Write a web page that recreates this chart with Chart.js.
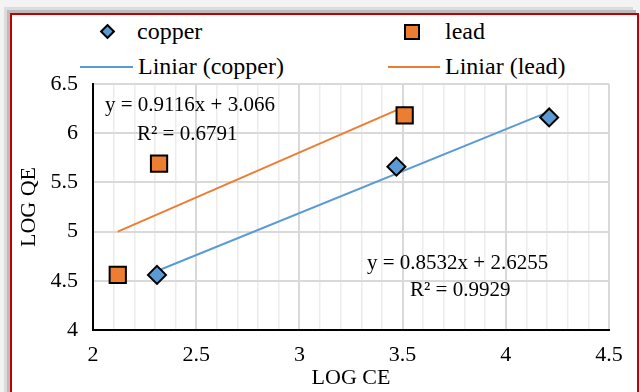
<!DOCTYPE html>
<html>
<head>
<meta charset="utf-8">
<script src="https://cdn.jsdelivr.net/npm/chart.js@4.4.0/dist/chart.umd.min.js"></script>
<style>
    html, body { margin: 0; padding: 0; width: 640px; height: 392px; overflow: hidden; background: #f3f3f3; }
    body { font-family: 'Liberation Serif', serif; color: #000; }
    #frame {
        position: absolute; left: 10px; top: 13px; width: 625px; height: 420px;
        border: 2px solid #c00000; background: #fff;
        box-shadow: -3px -3px 0 #bcbcbc, -6px -6px 0 #dcdcdc;
    }
    #wrap { position: absolute; left: 0; top: 0; width: 640px; height: 392px; }
    .txt { position: absolute; white-space: nowrap; line-height: 1; }
    .leg { font-size: 24px; }
    .eq { font-size: 21px; }
    .mk { position: absolute; box-sizing: border-box; border: 2px solid #000; }
    .ln { position: absolute; height: 2px; }
</style>
</head>
<body>
<div id="frame"></div>

<!-- legend -->
<div class="mk" style="left:102px;top:26px;width:11px;height:11px;background:#5b9bd5;transform:rotate(45deg);"></div>
<div class="txt leg" style="left:137px;top:19px;">copper</div>
<div class="mk" style="left:404px;top:24px;width:16px;height:16px;background:#ed7d31;"></div>
<div class="txt leg" style="left:445px;top:19px;">lead</div>
<div class="ln" style="left:80px;top:66px;width:53px;background:#5b9bd5;"></div>
<div class="txt leg" style="left:138px;top:54px;">Liniar (copper)</div>
<div class="ln" style="left:388px;top:66px;width:52px;background:#ed7d31;"></div>
<div class="txt leg" style="left:445px;top:54px;">Liniar (lead)</div>

<div id="wrap"><canvas id="chart" width="640" height="392"></canvas></div>

<!-- trendline labels -->
<div class="txt eq" style="left:105px;top:94px;">y = 0.9116x + 3.066</div>
<div class="txt eq" style="left:137px;top:123px;">R² = 0.6791</div>
<div class="txt eq" style="left:367px;top:252px;">y = 0.8532x + 2.6255</div>
<div class="txt eq" style="left:410px;top:279px;">R² = 0.9929</div>

<script>
// valori
const copperX = [2.31, 3.47, 4.21];
const copperY = [4.56, 5.66, 6.16];
const leadX = [2.12, 2.32, 3.51];
const leadY = [4.56, 5.69, 6.18];

// capetele liniilor de tendinta
const copperFitX = [2.31, 4.21];
const copperFitY = [4.60, 6.22];
const leadFitX = [2.12, 3.51];
const leadFitY = [5.00, 6.27];

const xMin = 2, xMax = 4.5, xStep = 0.1;
const yMin = 4, yMax = 6.5, yStep = 0.5;

const toPoints = (xs, ys) => xs.map((x, i) => ({ x: x, y: ys[i] }));
const isHalf = (v) => Math.abs(v * 2 - Math.round(v * 2)) < 1e-6;

Chart.defaults.font.family = "'Liberation Serif', serif";
Chart.defaults.color = '#000';

const ctx = document.getElementById('chart').getContext('2d');
new Chart(ctx, {
    type: 'scatter',
    data: {
        datasets: [{
            label: 'copper',
            data: toPoints(copperX, copperY),
            pointStyle: 'rectRot',
            pointRadius: 9,
            pointBackgroundColor: '#5b9bd5',
            pointBorderColor: '#000',
            pointBorderWidth: 2
        }, {
            label: 'lead',
            data: toPoints(leadX, leadY),
            pointStyle: 'rect',
            pointRadius: 11.5,
            pointBackgroundColor: '#ed7d31',
            pointBorderColor: '#000',
            pointBorderWidth: 2
        }, {
            label: 'Liniar (copper)',
            data: toPoints(copperFitX, copperFitY),
            showLine: true,
            borderColor: '#5b9bd5',
            borderWidth: 2,
            pointRadius: 0
        }, {
            label: 'Liniar (lead)',
            data: toPoints(leadFitX, leadFitY),
            showLine: true,
            borderColor: '#ed7d31',
            borderWidth: 2,
            pointRadius: 0
        }]
    },
    options: {
        responsive: false,
        animation: false,
        layout: { padding: { top: 84, right: 31, left: 0, bottom: 0 } },
        plugins: {
            legend: { display: false },
            tooltip: { enabled: false }
        },
        scales: {
            x: {
                type: 'linear',
                min: xMin,
                max: xMax,
                afterFit: (scale) => { scale.height = 62; },
                border: { color: '#000', width: 2 },
                grid: {
                    drawTicks: false,
                    color: (c) => isHalf(c.tick.value) ? '#d9d9d9' : '#ececec',
                    lineWidth: (c) => isHalf(c.tick.value) ? 2 : 1.5
                },
                ticks: {
                    stepSize: xStep,
                    autoSkip: false,
                    maxRotation: 0,
                    padding: 12,
                    font: { size: 22 },
                    callback: (v) => isHalf(v) ? String(Math.round(v * 10) / 10) : ''
                },
                title: {
                    display: true,
                    text: 'LOG CE',
                    font: { size: 22 },
                    padding: { top: 0, bottom: 1 }
                }
            },
            y: {
                min: yMin,
                max: yMax,
                afterFit: (scale) => { scale.width = 93; },
                border: { color: '#000', width: 2 },
                grid: {
                    drawTicks: false,
                    color: '#d9d9d9',
                    lineWidth: 2
                },
                ticks: {
                    stepSize: yStep,
                    padding: 15,
                    font: { size: 22 },
                    callback: (v) => String(v)
                },
                title: {
                    display: true,
                    text: 'LOG QE',
                    font: { size: 22 },
                    padding: { top: 16, bottom: 0 }
                }
            }
        }
    }
});
</script>
</body>
</html>
